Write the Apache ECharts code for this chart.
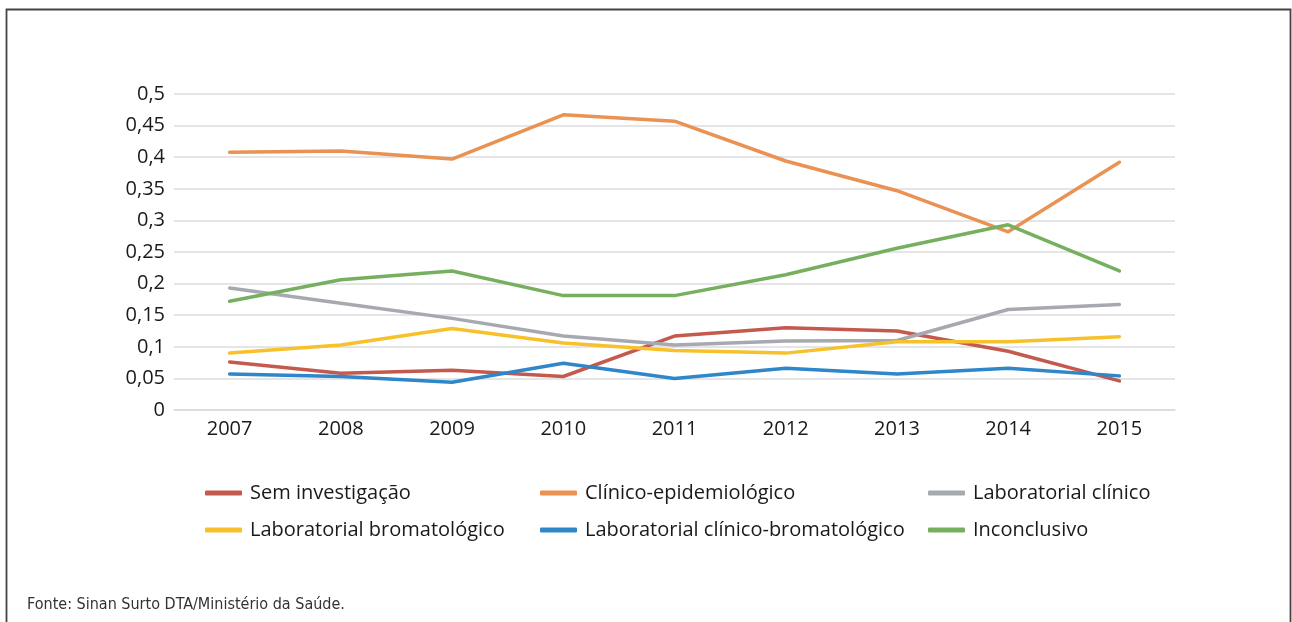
<!DOCTYPE html>
<html>
<head>
<meta charset="utf-8">
<script src="https://cdn.jsdelivr.net/npm/echarts@6/dist/echarts.min.js"></script>
<style>
  html, body { margin: 0; padding: 0; background: #fff; }
  #chart { width: 1292px; height: 622px; }
</style>
</head>
<body>
<div id="chart"></div>
<script>
// data
const years = ['2007', '2008', '2009', '2010', '2011', '2012', '2013', '2014', '2015']

const semInvestigacao = [0.076, 0.058, 0.063, 0.053, 0.117, 0.130, 0.125, 0.093, 0.046]
const clinicoEpidemiologico = [0.408, 0.410, 0.397, 0.467, 0.457, 0.394, 0.347, 0.282, 0.392]
const labClinico = [0.193, 0.169, 0.145, 0.117, 0.103, 0.109, 0.110, 0.159, 0.167]
const labBromatologico = [0.090, 0.103, 0.129, 0.106, 0.094, 0.090, 0.108, 0.108, 0.116]
const labClinicoBromatologico = [0.057, 0.053, 0.044, 0.074, 0.050, 0.066, 0.057, 0.066, 0.054]
const inconclusivo = [0.172, 0.206, 0.220, 0.181, 0.181, 0.214, 0.256, 0.293, 0.220]

const seriesNames = [
  'Sem investigação',
  'Clínico-epidemiológico',
  'Laboratorial clínico',
  'Laboratorial bromatológico',
  'Laboratorial clínico-bromatológico',
  'Inconclusivo'
]
const seriesData = [semInvestigacao, clinicoEpidemiologico, labClinico, labBromatologico, labClinicoBromatologico, inconclusivo]
const colors = ['#C45A4D', '#EA9253', '#A6AAB0', '#F7C12B', '#2F86C9', '#76B05F']

const fontFamily = '"Open Sans", "Noto Sans", sans-serif'

const chart = echarts.init(document.getElementById('chart'))

// one vertical legend per column, like the reference layout
function legendColumn(names, left) {
  return {
    orient: 'vertical',
    left: left,
    top: 482,
    padding: 0,
    itemWidth: 37,
    itemHeight: 5,
    itemGap: 15,
    icon: 'roundRect',
    data: names,
    textStyle: {
      fontFamily: fontFamily,
      fontSize: 20,
      lineHeight: 22,
      color: '#1a1a1a',
      padding: [0, 0, 0, 3]
    }
  }
}

const option = {
  animation: false,
  color: colors,
  title: {
    text: 'Fonte: Sinan Surto DTA/Ministério da Saúde.',
    left: 22,
    top: 592,
    textStyle: {
      fontFamily: '"Liberation Sans Narrow", "DejaVu Sans Condensed", sans-serif',
      fontSize: 16,
      fontWeight: 'normal',
      color: '#333'
    }
  },
  legend: [
    legendColumn([seriesNames[0], seriesNames[3]], 205),
    legendColumn([seriesNames[1], seriesNames[4]], 540),
    legendColumn([seriesNames[2], seriesNames[5]], 928)
  ],
  graphic: [{
    type: 'polyline',
    shape: { points: [[6.5, 622], [6.5, 9.5], [1290.5, 9.5], [1290.5, 622]] },
    style: { stroke: '#444', lineWidth: 1.8, fill: null },
    silent: true
  }],
  grid: {
    left: 174,
    right: 117,
    top: 94,
    bottom: 212,
    containLabel: false
  },
  xAxis: {
    type: 'category',
    boundaryGap: true,
    data: years,
    axisLine: { lineStyle: { color: '#D9D9DE', width: 1.5 } },
    axisTick: { show: false },
    axisLabel: {
      margin: 9,
      fontFamily: fontFamily,
      fontSize: 20,
      color: '#1a1a1a'
    }
  },
  yAxis: {
    type: 'value',
    min: 0,
    max: 0.5,
    interval: 0.05,
    axisLine: { show: false },
    axisTick: { show: false },
    splitLine: { lineStyle: { color: '#DCDCE0', width: 1.5 } },
    axisLabel: {
      margin: 9,
      fontFamily: fontFamily,
      fontSize: 20,
      color: '#1a1a1a',
      formatter: function (value) {
        return String(+value.toFixed(2)).replace('.', ',')
      }
    }
  },
  series: seriesNames.map((name, i) => ({
    name: name,
    type: 'line',
    data: seriesData[i],
    showSymbol: false,
    symbol: 'none',
    lineStyle: { width: 3.5, color: colors[i], cap: 'round' },
    itemStyle: { color: colors[i] }
  }))
}

chart.setOption(option)
</script>
</body>
</html>
